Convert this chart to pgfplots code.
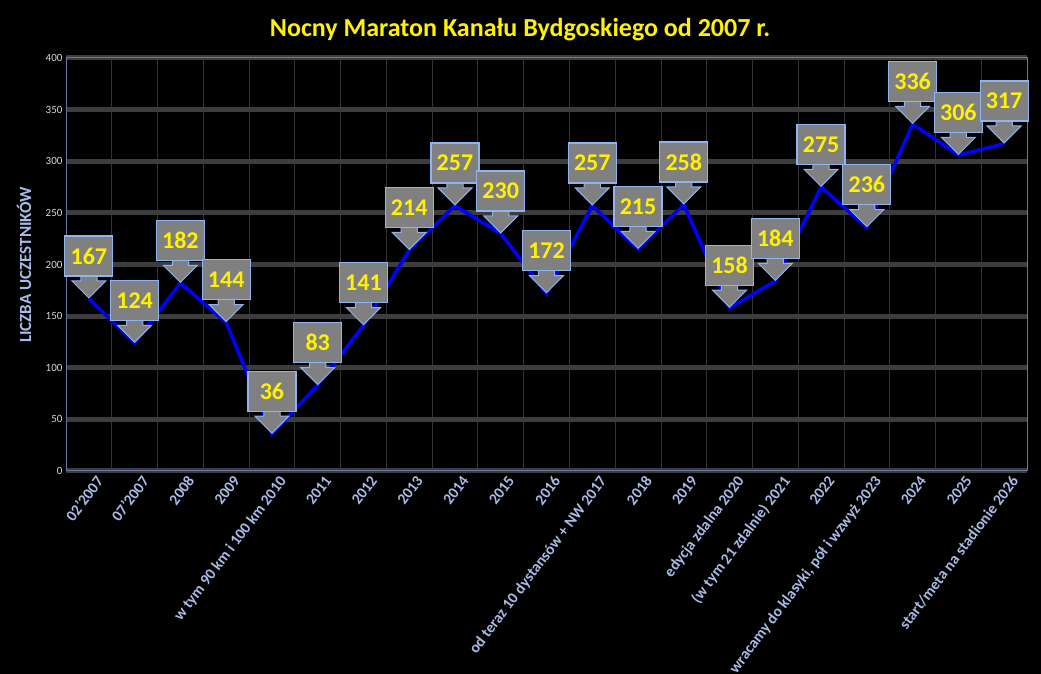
\documentclass[border=0pt]{standalone}
\usepackage{pgfplots}
\pgfplotsset{compat=1.18}
\usepackage{fontspec}
\setmainfont{Carlito}
\usetikzlibrary{shapes.arrows}
\definecolor{lab}{HTML}{A9BBE6}
\definecolor{bord}{HTML}{8FB4F0}
\definecolor{axl}{HTML}{6A78A8}
\begin{document}
\begin{tikzpicture}
\fill[black] (0pt,0pt) rectangle (1041pt,674pt);
\useasboundingbox (0pt,0pt) rectangle (1041pt,674pt);
\node[text=yellow,font=\bfseries\fontsize{26}{28}\selectfont] at (520pt,644pt) {Nocny Maraton Kanału Bydgoskiego od 2007 r.};
\node[text=lab,font=\bfseries\fontsize{17}{18}\selectfont,rotate=90] at (24pt,409pt) {LICZBA UCZESTNIKÓW};
\begin{axis}[at={(66pt,203pt)},anchor=south west,scale only axis,width=961pt,height=413pt,
 xmin=-0.5,xmax=20.5,ymin=0,ymax=400,ytick={0,50,...,400},
 xtick=data,
 xticklabels={02'2007,07'2007,2008,2009,w tym 90 km i 100 km 2010,2011,2012,2013,2014,2015,2016,od teraz 10 dystansów + NW 2017,2018,2019,edycja zdalna 2020,(w tym 21 zdalnie) 2021,2022,{wracamy do klasyki, pół i wzwyż 2023},2024,2025,start/meta na stadionie 2026},
 x tick label style={rotate=53,anchor=north east,text=lab,font=\bfseries\fontsize{15.5}{16}\selectfont,inner sep=1pt,yshift=-6pt,xshift=2pt},
 y tick label style={text=white!85!black,font=\fontsize{11}{12}\selectfont},
 /pgf/number format/assume math mode=true,
 minor xtick={-0.5,0.5,...,20.5},
 xminorgrids, ymajorgrids,
 minor grid style={draw=white!20!black,line width=0.8pt},
 major grid style={draw=white!24!black,line width=5pt},
 axis line style={draw=axl,line width=1pt},
 tick style={draw=none},
 clip=false,
]
\addplot[blue,line width=3.5pt] coordinates {(0,167)(1,124)(2,182)(3,144)(4,36)(5,83)(6,141)(7,214)(8,257)(9,230)(10,172)(11,257)(12,215)(13,258)(14,158)(15,184)(16,275)(17,236)(18,336)(19,306)(20,317)};
\addplot[draw=none,nodes near coords={},every node near coord/.style={shape=single arrow,shape border rotate=270,anchor=tip,fill=gray,draw=bord,line width=1pt,minimum height=30pt,minimum width=34pt,single arrow head extend=6pt,inner sep=5pt}] coordinates {(0,167)(1,124)(2,182)(3,144)(4,36)(5,83)(6,141)(7,214)(8,257)(9,230)(10,172)(11,257)(12,215)(13,258)(14,158)(15,184)(16,275)(17,236)(18,336)(19,306)(20,317)};
\addplot[draw=none,nodes near coords,every node near coord/.style={anchor=south,yshift=22pt,fill=gray,draw=bord,line width=1.2pt,minimum width=48pt,minimum height=40pt,text=yellow,font=\bfseries\fontsize{24}{26}\selectfont,inner sep=2pt}] coordinates {(0,167)(1,124)(2,182)(3,144)(4,36)(5,83)(6,141)(7,214)(8,257)(9,230)(10,172)(11,257)(12,215)(13,258)(14,158)(15,184)(16,275)(17,236)(18,336)(19,306)(20,317)};
\end{axis}
\end{tikzpicture}
\end{document}
